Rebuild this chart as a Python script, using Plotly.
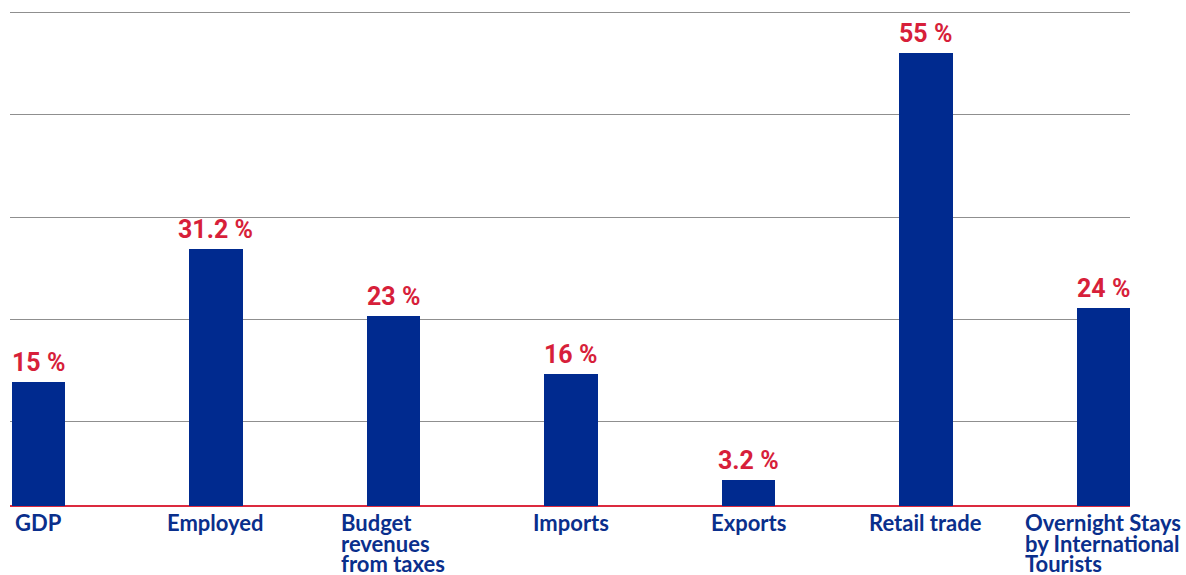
import plotly.graph_objects as go

categories = ["GDP", "Employed", "Budget<br>revenues<br>from taxes", "Imports",
              "Exports", "Retail trade", "Overnight Stays<br>by International<br>Tourists"]
values = [15, 31.2, 23, 16, 3.2, 55, 24]
grid_values = [10.31, 22.68, 35.05, 47.43, 59.8]

BLUE = "#002a8f"
LABEL_BLUE = "#0a2f8c"
RED = "#d71f3a"

xs = list(range(len(categories)))

fig = go.Figure()
fig.add_trace(go.Bar(x=xs, y=values, width=0.3, marker=dict(color=BLUE, line=dict(width=0)),
                     hoverinfo="skip", showlegend=False))

for x, v in zip(xs, values):
    fig.add_annotation(x=x, y=v, xref="x", yref="y", text=f"{v:g} %", showarrow=False,
                       yanchor="bottom", xanchor="center", yshift=3,
                       font=dict(family="Roboto", size=25, color=RED, weight="bold"))

for x, c in zip(xs, categories):
    lines = c.split("<br>")
    txt = "<br>".join(f"<span style='font-size:22px'>{ln}</span>" for ln in lines)
    fig.add_annotation(x=x, y=0, xref="x", yref="y", text=txt, showarrow=False,
                       yanchor="top", xanchor="center", align="left", yshift=-1,
                       font=dict(family="Lato", size=15.8, color=LABEL_BLUE, weight="bold"))

fig.update_layout(
    width=1186, height=575,
    margin=dict(l=10, r=56, t=10, b=69),
    paper_bgcolor="white", plot_bgcolor="white",
    xaxis=dict(range=[-0.16, 6.15], showgrid=False, showticklabels=False, zeroline=False,
               showline=False, ticks=""),
    yaxis=dict(range=[0, 60.16], tickvals=grid_values, showticklabels=False, showgrid=True,
               gridcolor="#8f8f8f", gridwidth=1, zeroline=True, zerolinecolor="#dc2a3f",
               zerolinewidth=2, showline=False, ticks=""),
    bargap=0,
)

fig.write_html("out.html")
